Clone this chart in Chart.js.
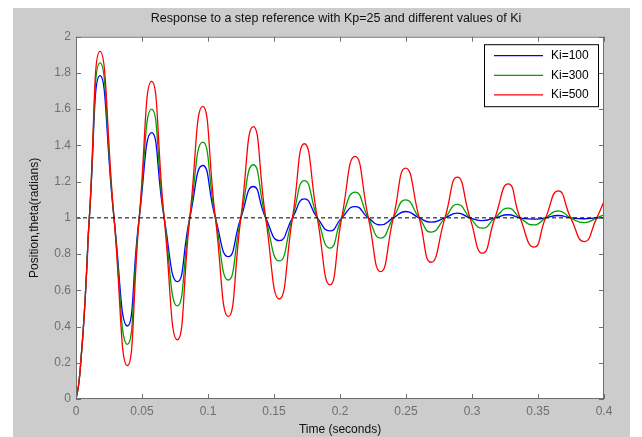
<!DOCTYPE html>
<html>
<head>
<meta charset="utf-8">
<script src="https://cdn.jsdelivr.net/npm/chart.js@4.4.1/dist/chart.umd.min.js"></script>
<style>
html,body{margin:0;padding:0;background:#fff;}
#wrap{position:relative;width:642px;height:437px;}
</style>
</head>
<body>
<div id="wrap"><canvas id="stepChart" width="642" height="437"></canvas></div>
<script>
// time samples (s): rise, then peaks / crossings of 1 / troughs
const time = [0, 0.002, 0.004, 0.006, 0.008, 0.0101,
  0.0182, 0.0288, 0.0389, 0.0479, 0.0573, 0.0668, 0.0768, 0.0862, 0.096, 0.1056,
  0.1154, 0.1249, 0.1343, 0.1437, 0.154, 0.164, 0.173, 0.1828, 0.1924, 0.2013,
  0.2114, 0.2215, 0.2308, 0.2404, 0.2497, 0.26, 0.269, 0.2795, 0.2889, 0.2985,
  0.308, 0.3174, 0.3275, 0.3364, 0.347, 0.3558, 0.3654, 0.3748, 0.385, 0.3945, 0.4];

const ki100 = [0, 0.08, 0.24, 0.44, 0.70, 1,
  1.785, 1, 0.403, 1, 1.471, 1, 0.648, 1, 1.289, 1,
  0.786, 1, 1.173, 1, 0.874, 1, 1.105, 1, 0.928, 1,
  1.062, 1, 0.961, 1, 1.035, 1, 0.976, 1, 1.026, 1,
  0.985, 1, 1.017, 1, 0.993, 1, 1.013, 1, 0.995, 1, 1.0];

const ki300 = [0, 0.08, 0.24, 0.44, 0.70, 1,
  1.855, 1, 0.302, 1, 1.60, 1, 0.514, 1, 1.418, 1,
  0.657, 1, 1.293, 1, 0.762, 1, 1.206, 1, 0.833, 1,
  1.142, 1, 0.888, 1, 1.099, 1, 0.921, 1, 1.074, 1,
  0.943, 1, 1.054, 1, 0.961, 1, 1.039, 1, 0.974, 1, 1.017];

const ki500 = [0, 0.08, 0.24, 0.44, 0.70, 1,
  1.919, 1, 0.184, 1, 1.753, 1, 0.326, 1, 1.615, 1,
  0.455, 1, 1.504, 1, 0.552, 1, 1.409, 1, 0.630, 1,
  1.339, 1, 0.703, 1, 1.275, 1, 0.755, 1, 1.225, 1,
  0.805, 1, 1.188, 1, 0.838, 1, 1.149, 1, 0.869, 1, 1.09];

const refLevel = 1;
const xTicks = [0, 0.05, 0.1, 0.15, 0.2, 0.25, 0.3, 0.35, 0.4];
const yTicks = [0, 0.2, 0.4, 0.6, 0.8, 1, 1.2, 1.4, 1.6, 1.8, 2];
const chartTitle = 'Response to a step reference with Kp=25 and different values of Ki';

const FONT = "'Liberation Sans', Arial, sans-serif";
const pts = vals => time.map((t, i) => ({x: t, y: vals[i]}));

// gray figure background, white axes box, title centred on the axes
const backdrop = {
  id: 'backdrop',
  beforeDraw(chart) {
    const {ctx, chartArea: a} = chart;
    ctx.save();
    ctx.fillStyle = '#ffffff';
    ctx.fillRect(0, 0, chart.width, chart.height);
    ctx.fillStyle = '#cccccc';
    ctx.fillRect(13, 8, 617, chart.height - 8);
    ctx.fillStyle = '#ffffff';
    ctx.fillRect(a.left, a.top, a.right - a.left, a.bottom - a.top);
    ctx.fillStyle = '#111111';
    ctx.font = '12.5px ' + FONT;
    ctx.textAlign = 'center';
    ctx.textBaseline = 'middle';
    ctx.fillText(chartTitle, (a.left + a.right) / 2 - 4, 19);
    ctx.restore();
  }
};

// matlab style box, inward ticks and legend inside the axes
const axesBox = {
  id: 'axesBox',
  afterDraw(chart) {
    const {ctx, chartArea: a, scales: {x, y}} = chart;
    ctx.save();
    ctx.strokeStyle = '#6e6e6e';
    ctx.lineWidth = 1;
    ctx.strokeRect(a.left + 0.5, a.top + 0.5, a.right - a.left - 1, a.bottom - a.top - 1);
    ctx.beginPath();
    xTicks.forEach(v => {
      const px = Math.round(x.getPixelForValue(v)) + 0.5;
      ctx.moveTo(px, a.bottom); ctx.lineTo(px, a.bottom - 5);
      ctx.moveTo(px, a.top); ctx.lineTo(px, a.top + 5);
    });
    yTicks.forEach(v => {
      const py = Math.round(y.getPixelForValue(v)) + 0.5;
      ctx.moveTo(a.left, py); ctx.lineTo(a.left + 5, py);
      ctx.moveTo(a.right, py); ctx.lineTo(a.right - 5, py);
    });
    ctx.stroke();

    // legend
    const bx = a.right - 120, by = a.top + 7.5, bw = 114, bh = 62;
    ctx.fillStyle = '#ffffff';
    ctx.fillRect(bx, by, bw, bh);
    ctx.strokeStyle = '#000000';
    ctx.strokeRect(bx + 0.5, by + 0.5, bw, bh);
    ctx.font = '12px ' + FONT;
    ctx.textBaseline = 'middle';
    chart.data.datasets.slice(0, 3).forEach((ds, i) => {
      const ry = by + 11.5 + i * 19.6;
      ctx.strokeStyle = ds.borderColor;
      ctx.lineWidth = 1.3;
      ctx.beginPath();
      ctx.moveTo(bx + 10, ry); ctx.lineTo(bx + 59, ry);
      ctx.stroke();
      ctx.fillStyle = '#000000';
      ctx.fillText(ds.label, bx + 67, ry);
    });
    ctx.restore();
  }
};

new Chart(document.getElementById('stepChart'), {
  type: 'line',
  data: {
    datasets: [
      {label: 'Ki=100', data: pts(ki100), borderColor: '#0000ff', order: 3},
      {label: 'Ki=300', data: pts(ki300), borderColor: '#00a000', order: 2},
      {label: 'Ki=500', data: pts(ki500), borderColor: '#ff0000', order: 1},
      {label: 'ref', data: [{x: 0, y: refLevel}, {x: 0.4, y: refLevel}],
       borderColor: '#000000', borderDash: [4, 3], borderWidth: 1, tension: 0, order: 0}
    ]
  },
  options: {
    responsive: false,
    animation: false,
    devicePixelRatio: 1,
    layout: {padding: {left: 0, right: 38, top: 36.7, bottom: 0}},
    elements: {
      point: {radius: 0},
      line: {borderWidth: 1.3, tension: 0.55, fill: false}
    },
    plugins: {
      legend: {display: false},
      tooltip: {enabled: false},
      title: {display: false}
    },
    scales: {
      x: {
        type: 'linear', min: 0, max: 0.4,
        afterFit: s => { s.height = 38; },
        afterBuildTicks: s => { s.ticks = xTicks.map(v => ({value: v})); },
        grid: {display: false, drawTicks: false},
        border: {display: false},
        ticks: {
          color: '#6f6f6f', padding: 5, maxRotation: 0, autoSkip: false,
          font: {family: FONT, size: 12},
          callback: v => String(+v.toFixed(2))
        },
        title: {display: true, text: 'Time (seconds)', color: '#111111',
          font: {family: FONT, size: 12}, padding: {top: 0, bottom: 0}}
      },
      y: {
        min: 0, max: 2,
        afterFit: s => { s.width = 76; },
        afterBuildTicks: s => { s.ticks = yTicks.map(v => ({value: v})); },
        grid: {display: false, drawTicks: false},
        border: {display: false},
        ticks: {
          color: '#6f6f6f', padding: 5, autoSkip: false,
          font: {family: FONT, size: 12},
          callback: v => String(+v.toFixed(1))
        },
        title: {display: true, text: 'Position,theta(radians)', color: '#111111',
          font: {family: FONT, size: 12}, padding: {top: 27, bottom: 0}}
      }
    }
  },
  plugins: [backdrop, axesBox]
});
</script>
</body>
</html>
